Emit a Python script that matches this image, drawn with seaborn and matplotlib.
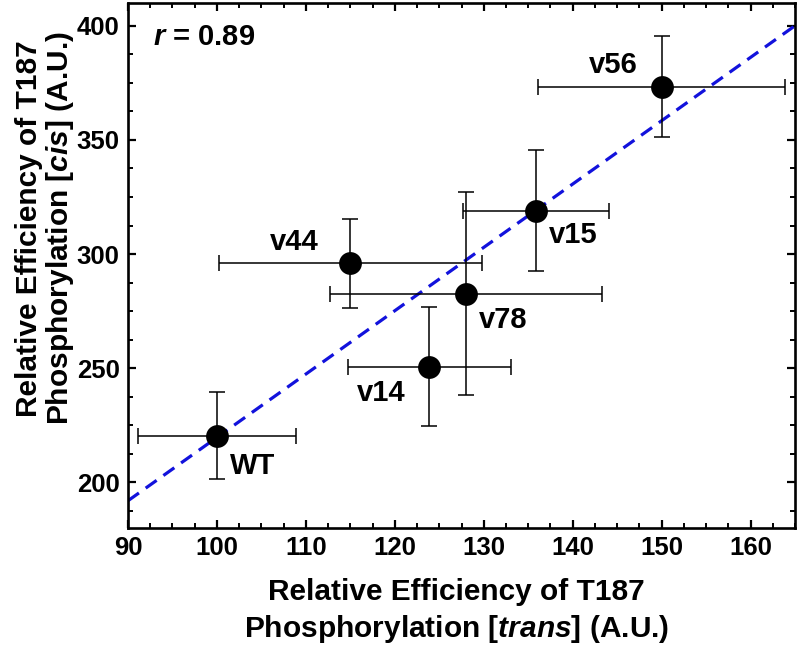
import numpy as np
import pandas as pd
import matplotlib
matplotlib.use("Agg")
import matplotlib.pyplot as plt
from matplotlib import font_manager
from matplotlib.ticker import MultipleLocator
import seaborn as sns

# ---- data ----
variants = ["WT", "v14", "v44", "v78", "v15", "v56"]
trans_eff = [100.0, 123.9, 115.0, 128.0, 135.9, 150.0]
cis_eff = [220.5, 250.6, 295.9, 282.7, 319.0, 373.4]
trans_err = [8.9, 9.2, 14.8, 15.3, 8.2, 13.9]
cis_err = [19.0, 26.0, 19.6, 44.5, 26.5, 22.0]
r_label = "0.89"
x_ticks = [90, 100, 110, 120, 130, 140, 150, 160]
y_ticks = [200, 250, 300, 350, 400]

df = pd.DataFrame({"variant": variants, "trans": trans_eff, "cis": cis_eff,
                   "xerr": trans_err, "yerr": cis_err})

sns.set_theme(style="white")
names = {f.name for f in font_manager.fontManager.ttflist}
narrow = "Liberation Sans Narrow" if "Liberation Sans Narrow" in names else "Liberation Sans"
plt.rcParams["font.family"] = ["Liberation Sans", "DejaVu Sans"]
plt.rcParams["text.color"] = "black"
plt.rcParams["axes.labelcolor"] = "black"
plt.rcParams["xtick.color"] = "black"
plt.rcParams["ytick.color"] = "black"
plt.rcParams["mathtext.fontset"] = "custom"
plt.rcParams["mathtext.it"] = "Liberation Sans:italic:bold"
plt.rcParams["mathtext.rm"] = "Liberation Sans:bold"
plt.rcParams["mathtext.bf"] = "Liberation Sans:bold"

fig = plt.figure(figsize=(7.99, 6.5), dpi=100)
ax = fig.add_axes([128 / 799, 1 - 528 / 650, (795 - 128) / 799, (528 - 3) / 650])

ax.set_xlim(90, 165)
ax.set_ylim(180, 410)

# regression line
sns.regplot(data=df, x="trans", y="cis", scatter=False, ci=None, truncate=False,
            ax=ax, line_kws=dict(color="#1212DC", lw=2.3, dashes=(4.2, 2.6), zorder=2))

# error bars
ax.errorbar(df["trans"], df["cis"], xerr=df["xerr"], yerr=df["yerr"], fmt="none",
            ecolor="black", elinewidth=1.1, capsize=5.5, capthick=1.1, zorder=3)

# points
sns.scatterplot(data=df, x="trans", y="cis", s=270, color="black", edgecolor="black",
                linewidth=0, ax=ax, zorder=4)

offsets = {"WT": (25.7, -22.1), "v14": (-34.6, -18.7), "v44": (-40.7, 15.1),
           "v78": (26.9, -18.7), "v15": (26.6, -17.8), "v56": (-34.6, 15.4)}
for v, x, y in zip(variants, trans_eff, cis_eff):
    ax.annotate(v, (x, y), xytext=offsets[v], textcoords="offset points",
                ha="center", va="center", fontsize=21, fontweight="bold",
                family="Liberation Sans", color="black", zorder=5)

ax.text(0.038, 0.935, r"$\mathit{r}$ = " + r_label, transform=ax.transAxes,
        fontsize=21, fontweight="bold", ha="left", va="center", color="black")

ax.xaxis.set_major_locator(MultipleLocator(10))
ax.xaxis.set_minor_locator(MultipleLocator(2.5))
ax.yaxis.set_major_locator(MultipleLocator(50))
ax.yaxis.set_minor_locator(MultipleLocator(12.5))
ax.set_xticks(x_ticks)
ax.set_yticks(y_ticks)
ax.set_xticklabels([str(t) for t in x_ticks])
ax.set_yticklabels([str(t) for t in y_ticks])
ax.tick_params(which="both", direction="in", top=True, right=True, bottom=True, left=True,
               color="black", labelcolor="black")
ax.tick_params(which="major", length=6, width=1.6, pad=6)
ax.tick_params(which="minor", length=3.6, width=1.4)
for lab in ax.get_xticklabels() + ax.get_yticklabels():
    lab.set_family(narrow)
    lab.set_fontweight("bold")
    lab.set_fontsize(18.5)

for sp in ax.spines.values():
    sp.set_visible(True)
    sp.set_color("black")
    sp.set_linewidth(1.9)

ax.set_xlabel("Relative Efficiency of T187\nPhosphorylation [$\\mathit{trans}$] (A.U.)",
              fontsize=21.5, fontweight="bold", linespacing=1.3)
ax.set_ylabel("Relative Efficiency of T187\nPhosphorylation [$\\mathit{cis}$] (A.U.)",
              fontsize=21.5, fontweight="bold", linespacing=1.02)
ax.xaxis.set_label_coords(0.493, -0.095)
ax.yaxis.set_label_coords(-0.078, 0.571)

fig.savefig("out.png", dpi=100, facecolor="white")
